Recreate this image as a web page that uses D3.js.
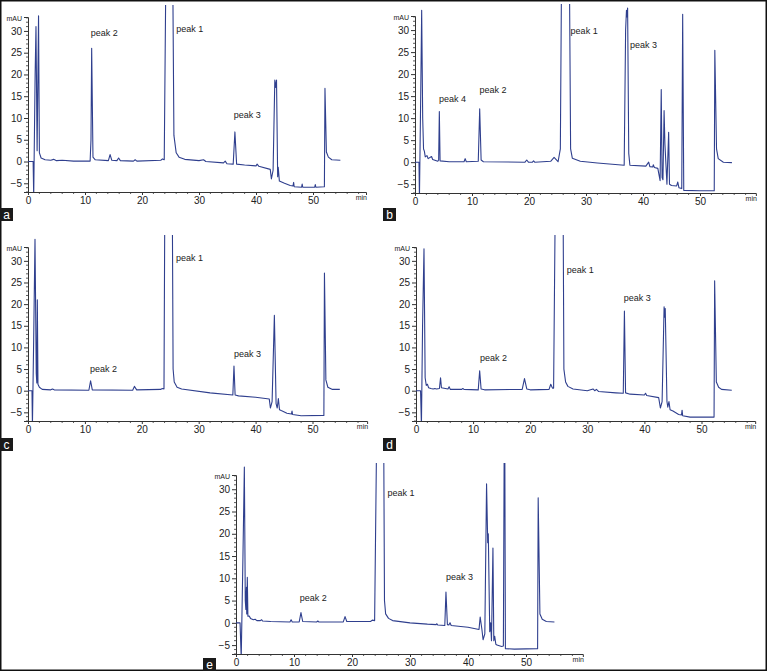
<!DOCTYPE html>
<html>
<head>
<meta charset="utf-8">
<script src="https://cdn.jsdelivr.net/npm/d3@7"></script>
<style>
  body { margin: 0; background: #fff; }
  svg { display: block; }
</style>
</head>
<body>
<svg width="767" height="671"></svg>
<script>
// tick labels shared by all five chromatograms
const xTicks = [0, 10, 20, 30, 40, 50];
const yTicks = [-5, 0, 5, 10, 15, 20, 25, 30];
const yDomain = [-7, 33.2];

// traces: [time (min), signal (mAU)]
const traceA = [[0,0],[0.9,0],[1.0,-8],[1.25,20],[1.4,31],[1.6,2.5],[1.85,33.5],[2.0,2],[2.3,0.8],[3,0.4],[4,0.3],[4.5,0.5],[5,0.2],[6,0.3],[8,0.1],[10.9,0.1],[11.05,5],[11.17,26],[11.4,1],[11.8,0.4],[14.1,0.2],[14.4,1.6],[14.7,0.3],[15.6,0.2],[15.9,0.8],[16.2,0.2],[18.5,0.1],[18.8,0.4],[19.1,0.1],[23.3,0.3],[23.6,0.6],[23.9,0.4],[24.3,60],[25.3,60],[25.6,6],[26,2],[26.5,1],[27.5,0.5],[30,0.2],[30.8,0.4],[31.2,0],[34.3,-0.3],[34.6,0.1],[34.9,-0.5],[36.0,-0.6],[36.3,6.8],[36.6,-0.6],[38,-0.8],[40,-1],[40.2,-0.6],[40.5,-1.1],[42.5,-1.8],[42.7,-4],[43.0,-2],[43.3,18.7],[43.45,17],[43.6,18.7],[43.8,-3.5],[43.9,-1.3],[44.1,-4.5],[45,-5],[46,-5.5],[46.5,-5.6],[46.6,-4.8],[46.7,-5.8],[48,-5.9],[48.1,-5.2],[48.2,-5.9],[50.3,-5.9],[50.4,-5.3],[50.5,-5.9],[52.0,-5.8],[52.1,16.8],[52.35,2.2],[52.7,1],[53.3,0.4],[54.8,0.3]];
const traceB = [[0,0],[0.7,0],[0.78,-8],[1.0,15],[1.17,34.5],[1.35,10],[1.5,3],[1.64,2.5],[1.8,1.2],[2.1,1.5],[2.3,0.8],[2.9,1.3],[3.1,0.6],[4.0,0.2],[4.15,0.5],[4.27,11.5],[4.4,0.3],[6,0.1],[8.6,0.1],[8.8,0.8],[9.0,0.1],[11.1,0.2],[11.35,12.1],[11.6,0.5],[12,0.1],[19.3,0],[19.6,0.5],[19.9,0],[20.6,0],[20.8,0.3],[21,0],[23.8,0.2],[24.4,1.1],[25.1,0.1],[25.5,3],[25.8,60],[27.0,60],[27.3,3],[27.6,0.9],[29,0.2],[32,-0.2],[36.7,-0.7],[36.95,30],[37.1,34.5],[37.2,33],[37.3,35],[37.5,2],[37.7,-0.7],[40.5,-0.9],[41.0,0],[41.2,-1],[41.7,-1.1],[41.8,-0.6],[42,-1.2],[42.6,-1.4],[43.0,-4.2],[43.2,16.5],[43.35,-3.5],[43.5,-4],[43.7,11.7],[43.85,4],[44.2,-5],[44.5,6.8],[44.65,-5],[45,-5.3],[45.9,-5.4],[46.1,-4.5],[46.3,-5.8],[46.8,-6],[46.96,33.6],[47.15,-6.4],[50,-6.5],[52.5,-6.5],[52.6,25.4],[52.9,3],[53.2,0.8],[54.1,0],[55.6,-0.1]];
const traceC = [[0,0],[0.7,0],[0.78,-8],[1.0,12],[1.23,35],[1.45,4],[1.55,1.8],[1.64,21],[1.75,1.5],[2.0,0.8],[2.5,0.3],[4,0.2],[4.3,0.4],[4.6,0.2],[10.7,0.1],[11.0,2.3],[11.3,0.2],[18.4,0.1],[18.7,1.0],[19.1,0.2],[23.3,0.3],[23.6,0.5],[23.9,0.4],[24.1,60],[25.3,60],[25.5,5],[25.7,2],[26.2,0.8],[27,0.4],[32,-0.5],[36,-1],[36.2,5.7],[36.4,-1],[37,-1.2],[40,-1.5],[42.4,-1.9],[42.6,-4],[42.9,-2.5],[43.3,17.4],[43.6,-3],[43.8,-4],[44.0,-1.8],[44.2,-4.4],[44.5,-4.6],[45.5,-5.2],[46.3,-5.4],[46.4,-4.7],[46.5,-5.5],[48,-5.8],[52.0,-5.7],[52.1,27.2],[52.35,2.5],[52.7,0.8],[53.5,0.3],[54.8,0.3]];
const traceD = [[0,0],[0.8,0],[0.95,-8],[1.15,15],[1.4,32.8],[1.6,3],[1.8,1.2],[2.0,1.5],[2.2,0.7],[2.6,0.5],[3.0,0.4],[3.3,0.5],[3.6,0.4],[4.1,0.5],[4.3,3.0],[4.45,0.7],[5.6,0.4],[5.8,0.9],[6.0,0.3],[8.0,0.3],[8.2,0.5],[8.4,0.3],[10.9,0.2],[11.15,4.6],[11.4,0.4],[12,0.2],[18.6,0.3],[19.0,2.8],[19.4,0.4],[20,0.2],[23.3,0.3],[23.6,1.5],[23.9,0.6],[24.1,0.6],[24.5,60],[25.7,60],[25.9,5],[26.2,2],[26.6,1],[27.5,0.4],[30,0],[31.0,0.4],[31.3,0],[31.6,0.3],[32,-0.2],[35,-0.5],[36.3,-0.6],[36.5,18.4],[36.7,-0.5],[37.5,-0.8],[40.0,-1],[40.2,-0.6],[40.4,-1.1],[42.5,-1.6],[42.8,-4],[43.1,-2.5],[43.45,19.4],[43.55,17],[43.65,19],[43.95,-2.5],[44.1,-3.8],[44.3,-2.5],[44.5,-4.4],[45,-4.7],[46,-5.5],[46.5,-5.6],[46.6,-4.5],[46.7,-5.8],[48,-6.1],[52.2,-6.1],[52.3,25.4],[52.6,2],[53,0.8],[53.5,0.3],[55.3,0.1]];
const traceE = [[0,0],[0.7,0],[0.9,-8],[1.2,15],[1.44,35],[1.6,5],[1.7,3],[1.8,8],[1.85,2],[1.95,10.2],[2.05,1.5],[2.3,1.5],[2.5,1],[3.0,0.7],[3.3,0.8],[3.6,0.5],[4.2,0.5],[4.4,0.7],[4.6,0.4],[6,0.3],[9.3,0.2],[9.5,0.7],[9.7,0.2],[10.9,0.2],[11.2,2.3],[11.5,0.3],[13.9,0.2],[14.1,0.4],[14.3,0.2],[18.5,0.2],[18.8,1.4],[19.1,0.3],[23.2,0.3],[23.5,0.6],[23.9,0.5],[24.4,60],[25.4,60],[25.6,5],[25.8,2],[26.3,1],[27,0.5],[30,0],[33,-0.3],[34.5,-0.4],[34.6,-0.2],[34.8,-0.5],[36.0,-0.6],[36.2,6.9],[36.45,-0.4],[36.7,-0.5],[36.9,0],[37.1,-0.6],[40,-1],[41.9,-1.5],[42.1,1.3],[42.4,-1.5],[42.6,-3.8],[42.9,-2.5],[43.2,31.2],[43.4,18],[43.5,20],[43.75,-2],[43.9,0],[44.05,-4],[44.3,16.8],[44.45,-4],[44.6,-3],[44.8,-4.8],[45,-5],[45.8,-5.3],[46.1,-5.2],[46.3,60],[46.45,-5.8],[48,-5.9],[52.0,-5.8],[52.1,28.1],[52.4,2],[52.8,0.8],[53.5,0.3],[54.9,0.2]];

// peak annotations: left edge of text (min), baseline (mAU)
const peaksA = [["peak 2", 11.0, 28.8], ["peak 1", 26.0, 29.8], ["peak 3", 36.1, 10.1]];
const peaksB = [["peak 4", 4.2, 13.7], ["peak 2", 11.3, 15.7], ["peak 1", 27.3, 29.1], ["peak 3", 37.7, 26.0]];
const peaksC = [["peak 2", 10.9, 4.4], ["peak 1", 26.0, 30.0], ["peak 3", 36.2, 7.8]];
const peaksD = [["peak 2", 11.2, 6.8], ["peak 1", 26.4, 27.1], ["peak 3", 36.4, 20.7]];
const peaksE = [["peak 2", 11.0, 4.8], ["peak 1", 26.1, 28.5], ["peak 3", 36.2, 9.7]];

// panel placement on the page
const panels = [
  { id: "a", trace: traceA, peaks: peaksA, left: 28,  bottom: 192, top: 17,  pxPerMin: 5.7,  axisEnd: 59.3, tag: [0, 208] },
  { id: "b", trace: traceB, peaks: peaksB, left: 415, bottom: 193, top: 16,  pxPerMin: 5.7,  axisEnd: 59.8, tag: [383, 208] },
  { id: "c", trace: traceC, peaks: peaksC, left: 28,  bottom: 421, top: 247, pxPerMin: 5.69, axisEnd: 59.6, tag: [0, 438] },
  { id: "d", trace: traceD, peaks: peaksD, left: 416, bottom: 421, top: 247, pxPerMin: 5.71, axisEnd: 59.4, tag: [383, 438] },
  { id: "e", trace: traceE, peaks: peaksE, left: 236, bottom: 654, top: 475, pxPerMin: 5.8,  axisEnd: 59.8, tag: [203, 658] }
];

const svg = d3.select("svg");
const font = "'Liberation Sans', Arial, sans-serif";
const lineColor = "#2f3f8e";
const axisColor = "#333";

// outer frame
svg.append("rect")
  .attr("x", 0.75).attr("y", 0.75)
  .attr("width", 765.5).attr("height", 669.5)
  .attr("fill", "none")
  .attr("stroke", "#111")
  .attr("stroke-width", 1.5);

panels.forEach(p => {
  const x = d3.scaleLinear()
    .domain([0, p.axisEnd])
    .range([p.left, p.left + p.axisEnd * p.pxPerMin]);
  const y = d3.scaleLinear().domain(yDomain).range([p.bottom, p.top]);

  const g = svg.append("g").attr("class", "panel-" + p.id);

  // clip so saturated peaks run off the top like the original
  const clipId = "clip-" + p.id;
  g.append("clipPath").attr("id", clipId)
    .append("rect")
    .attr("x", p.left)
    .attr("y", p.top - 12)
    .attr("width", x.range()[1] - p.left)
    .attr("height", p.bottom - p.top + 12);

  // minor ticks
  const xMinor = d3.range(0, p.axisEnd, 2).filter(v => v % 10 !== 0);
  g.selectAll(".xminor").data(xMinor).join("line")
    .attr("x1", d => x(d)).attr("x2", d => x(d))
    .attr("y1", p.bottom).attr("y2", p.bottom + 2)
    .attr("stroke", axisColor).attr("stroke-width", 0.8);
  const yMinor = d3.range(-7, 34, 1).filter(v => v % 5 !== 0);
  g.selectAll(".yminor").data(yMinor).join("line")
    .attr("x1", p.left - 2).attr("x2", p.left)
    .attr("y1", d => y(d)).attr("y2", d => y(d))
    .attr("stroke", axisColor).attr("stroke-width", 0.8);

  // axes
  const xAxis = d3.axisBottom(x).tickValues(xTicks).tickSize(3).tickPadding(2).tickFormat(d3.format("d"));
  const yAxis = d3.axisLeft(y).tickValues(yTicks).tickSize(4).tickPadding(2).tickFormat(d3.format("d"));

  const gx = g.append("g").attr("transform", `translate(0,${p.bottom})`).call(xAxis);
  const gy = g.append("g").attr("transform", `translate(${p.left},0)`).call(yAxis);
  [gx, gy].forEach(ax => {
    ax.select(".domain").attr("stroke", axisColor).attr("stroke-width", 1);
    ax.selectAll(".tick line").attr("stroke", axisColor);
    ax.selectAll(".tick text")
      .attr("fill", "#222")
      .style("font-family", font)
      .style("font-size", "10px");
  });

  // small cap at top of y axis
  g.append("line")
    .attr("x1", p.left - 4).attr("x2", p.left)
    .attr("y1", p.top + 0.5).attr("y2", p.top + 0.5)
    .attr("stroke", axisColor);

  g.append("text")
    .attr("x", p.left - 6).attr("y", p.top + 4)
    .attr("text-anchor", "end")
    .style("font-family", font).style("font-size", "7px")
    .attr("fill", "#222")
    .text("mAU");

  g.append("text")
    .attr("x", x.range()[1] + 1).attr("y", p.bottom + 8)
    .attr("text-anchor", "end")
    .style("font-family", font).style("font-size", "7px")
    .attr("fill", "#222")
    .text("min");

  // chromatogram trace
  const line = d3.line().x(d => x(d[0])).y(d => y(d[1]));
  g.append("path")
    .datum(p.trace)
    .attr("clip-path", `url(#${clipId})`)
    .attr("d", line)
    .attr("fill", "none")
    .attr("stroke", lineColor)
    .attr("stroke-width", 1.1)
    .attr("stroke-linejoin", "round");

  // peak labels
  g.selectAll(".peak").data(p.peaks).join("text")
    .attr("x", d => x(d[1]))
    .attr("y", d => y(d[2]))
    .style("font-family", font)
    .style("font-size", "9px")
    .attr("fill", "#222")
    .text(d => d[0]);

  // panel letter tag
  g.append("rect")
    .attr("x", p.tag[0]).attr("y", p.tag[1])
    .attr("width", 13).attr("height", 13)
    .attr("fill", "#1a1a1a");
  g.append("text")
    .attr("x", p.tag[0] + 6.5).attr("y", p.tag[1] + 10.5)
    .attr("text-anchor", "middle")
    .style("font-family", font)
    .style("font-size", "12px")
    .attr("fill", "#fff")
    .text(p.id);
});
</script>
</body>
</html>
